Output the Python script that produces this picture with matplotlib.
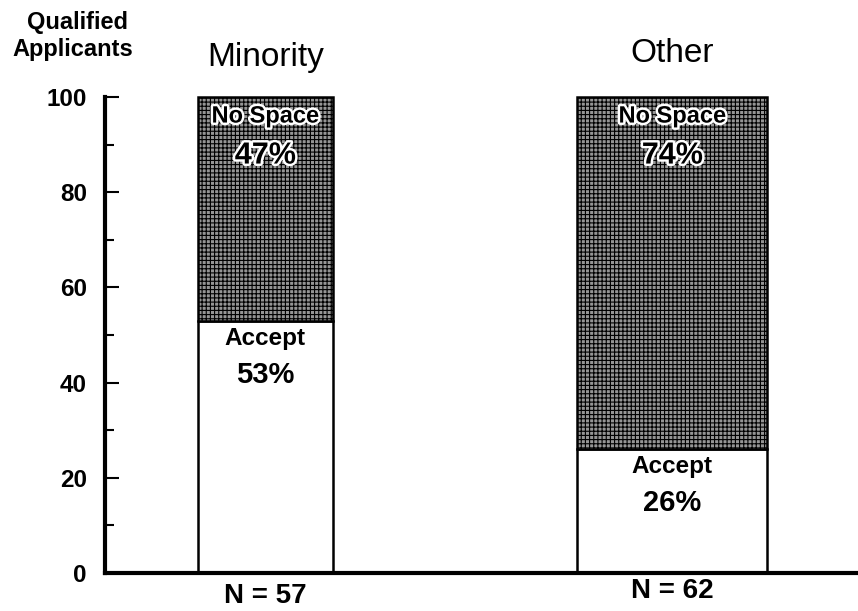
import matplotlib
matplotlib.use("Agg")
import matplotlib.pyplot as plt
import matplotlib.patheffects as pe

plt.rcParams['font.family'] = ['Liberation Sans', 'DejaVu Sans']
plt.rcParams['hatch.color'] = "#4a4a4a"
plt.rcParams['hatch.linewidth'] = 0.8

groups = ["Minority", "Other"]
accept = [53, 26]
no_space = [47, 74]
accept_labels = ["53%", "26%"]
no_space_labels = ["47%", "74%"]
n_labels = ["N = 57", "N = 62"]
yticks = [0, 20, 40, 60, 80, 100]

fig = plt.figure(figsize=(8.58, 6.11), dpi=100)
ax = fig.add_axes([105/858, 38/611, 753/858, 476/611])

xpos = [0, 1]
widths = [0.33, 0.467]
gray = "#969696"
for i in range(2):
    ax.bar(xpos[i], accept[i], width=widths[i], color="white", edgecolor="black",
           linewidth=1.8, clip_on=False, zorder=2)
    ax.bar(xpos[i], no_space[i], bottom=accept[i], width=widths[i], color=gray,
           edgecolor="black", linewidth=1.8, hatch="++++", clip_on=False, zorder=2)

stroke = [pe.withStroke(linewidth=3.5, foreground="white")]
title_y = [108.2, 109.2]
n_y = [-4.8, -3.8]
for i in range(2):
    top = accept[i] + no_space[i]
    ax.text(xpos[i], top - 4, "No Space", ha="center", va="center", fontsize=17,
            fontweight="bold", path_effects=stroke, zorder=5)
    ax.text(xpos[i], top - 12.3, no_space_labels[i], ha="center", va="center", fontsize=22,
            fontweight="bold", path_effects=stroke, zorder=5)
    ax.text(xpos[i], accept[i] - 3.7, "Accept", ha="center", va="center", fontsize=17.5,
            fontweight="bold", zorder=5)
    ax.text(xpos[i], accept[i] - 11.3, accept_labels[i], ha="center", va="center",
            fontsize=21, fontweight="bold", zorder=5)
    ax.text(xpos[i], title_y[i], groups[i], ha="center", va="center", fontsize=24,
            zorder=5, clip_on=False)
    ax.text(xpos[i], n_y[i], n_labels[i], ha="center", va="center", fontsize=20,
            fontweight="bold", zorder=5, clip_on=False)

ax.set_xlim(-0.394, -0.394 + 753/407)
ax.set_ylim(0, 100)
ax.set_yticks(yticks)
ax.set_yticks(range(10, 100, 20), minor=True)
ax.set_yticklabels([str(t) for t in yticks], fontsize=17.5, fontweight="bold")
ax.tick_params(axis="y", which="major", direction="in", length=10, width=1.5, pad=13)
ax.tick_params(axis="y", which="minor", direction="in", length=6.5, width=1.5)
ax.set_xticks([])
for s in ["top", "right"]:
    ax.spines[s].set_visible(False)
ax.spines["left"].set_linewidth(3)
ax.spines["bottom"].set_linewidth(3)

fig.text(77/858, 1 - 29/611, "Qualified", ha="center", va="baseline",
         fontsize=17, fontweight="bold")
fig.text(73/858, 1 - 56/611, "Applicants", ha="center", va="baseline",
         fontsize=17, fontweight="bold")

fig.savefig("out.png", dpi=100)
